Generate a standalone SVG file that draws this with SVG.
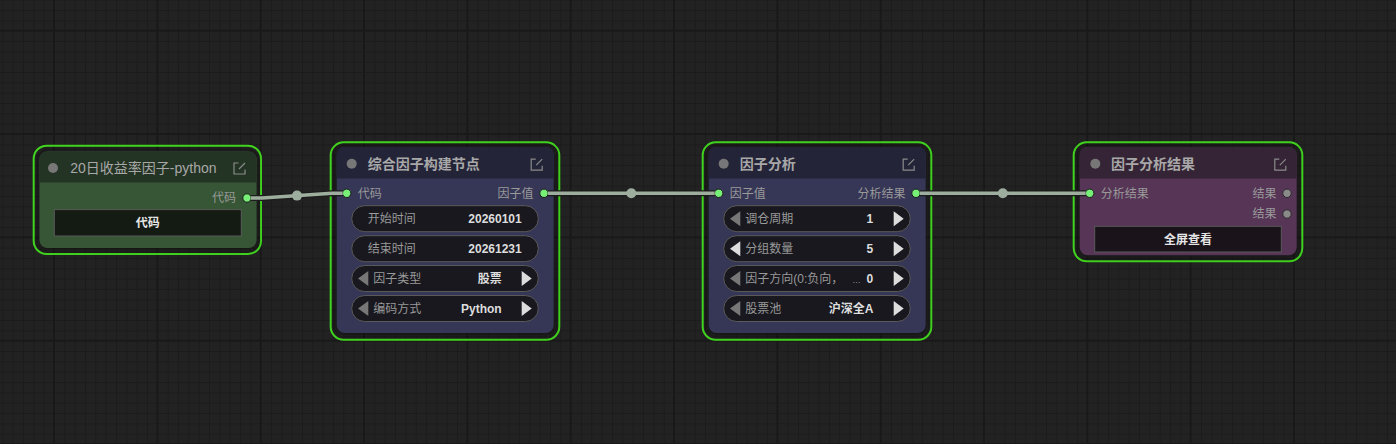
<svg xmlns="http://www.w3.org/2000/svg" width="1396" height="444" viewBox="0 0 1396 444">
<style>
text{font-family:"Liberation Sans","Noto Sans CJK SC",sans-serif;}
.title{font-size:14px;fill:#a8a8a8;}
.tb{font-weight:bold;}
.slot{font-size:12px;fill:#999;}
.lbl{font-size:12px;fill:#999;}
.val{font-size:12px;fill:#ddd;font-weight:bold;text-anchor:end;}
.btnt{font-size:12px;fill:#e6e6e6;font-weight:bold;text-anchor:middle;}
.sel{fill:none;stroke:#41d61f;stroke-width:2;}
.pill{fill:#18181e;stroke:#5a5a5a;stroke-width:1;}
.on{fill:#dddddd;}
.off{fill:#777777;}
.dotin{fill:#77f077;stroke:#1a1a1a;stroke-width:1;}
.dotoff{fill:#8a8a8a;stroke:#2a2a2a;stroke-width:1;}
.tdot{fill:#777;}
.edit{fill:none;stroke:#8a8a8a;stroke-width:1.2;}
.link{fill:none;stroke:#9eae9e;stroke-width:3.5;stroke-linejoin:round;}
.linkbg{fill:none;stroke:#1c1c1c;stroke-width:6;stroke-linejoin:round;}
.mid{fill:#9eae9e;}
.shadow{fill:#111;opacity:0.6;}
</style>
<defs>
<pattern id="minor" patternUnits="userSpaceOnUse" x="54" y="30.7" width="10.333" height="10.333">
<path d="M0.5,0 V10.333 M0,0.5 H10.333" stroke="#1c1c1c" stroke-width="1"/>
</pattern>
<pattern id="major" patternUnits="userSpaceOnUse" x="53" y="29.7" width="103.33" height="103.33">
<path d="M1,0 V103.33 M0,1 H103.33" stroke="#191919" stroke-width="2"/>
</pattern>
<path id="editIcon" d="M5,0.5 H0.5 V11.5 H11.5 V7 M5.5,6.5 L11.5,0.5"/>
<filter id="blur" x="-10%" y="-10%" width="120%" height="120%"><feGaussianBlur stdDeviation="2"/></filter>
</defs>
<rect width="1396" height="444" fill="#222222"/>
<rect width="1396" height="444" fill="url(#minor)"/>
<rect width="1396" height="444" fill="url(#major)"/>

<g id="node-1">
<rect class="sel" x="33.7" y="145.7" width="227.3" height="108.3" rx="13"/>
<rect class="shadow" x="38" y="150.5" width="220" height="100" rx="9" filter="url(#blur)"/>
<rect x="39.4" y="151.6" width="217.2" height="96.5" rx="8" fill="#375636"/>
<path d="M39.4,182.5 V159.6 A8,8 0 0 1 47.4,151.6 H248.6 A8,8 0 0 1 256.6,159.6 V182.5 Z" fill="#243424"/>
<circle class="tdot" cx="53" cy="168" r="5"/>
<text class="title" x="70.3" y="173">20日收益率因子-python</text>
<use href="#editIcon" class="edit" x="233.5" y="162.5"/>
<text class="slot" x="236" y="202.3" text-anchor="end">代码</text>
<circle class="dotin" cx="247" cy="198" r="4.2"/>
<rect x="54.3" y="209.6" width="187" height="26.4" fill="#131b13" stroke="#5a5a5a"/>
<text class="btnt" x="147.8" y="227.2">代码</text>
</g>

<g id="node-2">
<rect class="sel" x="330.7" y="142.3" width="228.6" height="197.5" rx="13"/>
<rect class="shadow" x="335" y="146" width="221" height="190" rx="9" filter="url(#blur)"/>
<rect x="336.7" y="147" width="217" height="186" rx="8" fill="#363656"/>
<path d="M336.7,178.5 V155 A8,8 0 0 1 344.7,147 H545.7 A8,8 0 0 1 553.7,155 V178.5 Z" fill="#242438"/>
<circle class="tdot" cx="351.7" cy="163.7" r="5"/>
<text class="title tb" x="367.7" y="168.7">综合因子构建节点</text>
<use href="#editIcon" class="edit" x="530.7" y="158.7"/>
<circle class="dotin" cx="346.7" cy="193.3" r="4.2"/>
<text class="slot" x="357.7" y="197.6">代码</text>
<text class="slot" x="533.5" y="197.6" text-anchor="end">因子值</text>
<circle class="dotin" cx="544" cy="193.3" r="4.2"/>
<rect class="pill" x="351.7" y="205.7" width="186.6" height="26" rx="13"/>
<text class="lbl" x="367.7" y="223">开始时间</text>
<text class="val" x="521.7" y="223">20260101</text>
<rect class="pill" x="351.7" y="235.7" width="186.6" height="26" rx="13"/>
<text class="lbl" x="367.7" y="253">结束时间</text>
<text class="val" x="521.7" y="253">20261231</text>
<rect class="pill" x="351.7" y="265.5" width="186.6" height="26" rx="13"/>
<polygon class="off" points="358,278.5 368.3,271 368.3,286"/>
<text class="lbl" x="373.3" y="282.8">因子类型</text>
<text class="val" x="501.7" y="282.8">股票</text>
<polygon class="on" points="531.7,278.5 521.7,271 521.7,286"/>
<rect class="pill" x="351.7" y="295.5" width="186.6" height="26" rx="13"/>
<polygon class="off" points="358,308.5 368.3,301 368.3,316"/>
<text class="lbl" x="373.3" y="312.8">编码方式</text>
<text class="val" x="501.7" y="312.8">Python</text>
<polygon class="on" points="531.7,308.5 521.7,301 521.7,316"/>
</g>

<g id="node-3">
<rect class="sel" x="702.7" y="142.3" width="228.6" height="197.5" rx="13"/>
<rect class="shadow" x="707" y="146" width="221" height="190" rx="9" filter="url(#blur)"/>
<rect x="708.7" y="147" width="217" height="186" rx="8" fill="#363656"/>
<path d="M708.7,178.5 V155 A8,8 0 0 1 716.7,147 H917.7 A8,8 0 0 1 925.7,155 V178.5 Z" fill="#242438"/>
<circle class="tdot" cx="723.7" cy="163.7" r="5"/>
<text class="title tb" x="739.7" y="168.7">因子分析</text>
<use href="#editIcon" class="edit" x="902.7" y="158.7"/>
<circle class="dotin" cx="718.7" cy="193.3" r="4.2"/>
<text class="slot" x="729.7" y="197.6">因子值</text>
<text class="slot" x="905.5" y="197.6" text-anchor="end">分析结果</text>
<circle class="dotin" cx="916" cy="193.3" r="4.2"/>
<rect class="pill" x="723.7" y="205.7" width="186.6" height="26" rx="13"/>
<polygon class="off" points="730,218.7 740.3,211.2 740.3,226.2"/>
<text class="lbl" x="745.3" y="223">调仓周期</text>
<text class="val" x="873.3" y="223">1</text>
<polygon class="on" points="903.7,218.7 893.7,211.2 893.7,226.2"/>
<rect class="pill" x="723.7" y="235.7" width="186.6" height="26" rx="13"/>
<polygon class="on" points="730,248.7 740.3,241.2 740.3,256.2"/>
<text class="lbl" x="745.3" y="253">分组数量</text>
<text class="val" x="873.3" y="253">5</text>
<polygon class="on" points="903.7,248.7 893.7,241.2 893.7,256.2"/>
<rect class="pill" x="723.7" y="265.5" width="186.6" height="26" rx="13"/>
<polygon class="off" points="730,278.5 740.3,271 740.3,286"/>
<text class="lbl" x="745.3" y="282.8">因子方向(0:负向，<tspan x="852.3" style="font-size:8.5px">…</tspan></text>
<text class="val" x="873.3" y="282.8">0</text>
<polygon class="on" points="903.7,278.5 893.7,271 893.7,286"/>
<rect class="pill" x="723.7" y="295.5" width="186.6" height="26" rx="13"/>
<polygon class="off" points="730,308.5 740.3,301 740.3,316"/>
<text class="lbl" x="745.3" y="312.8">股票池</text>
<text class="val" x="873.3" y="312.8">沪深全A</text>
<polygon class="on" points="903.7,308.5 893.7,301 893.7,316"/>
</g>

<g id="node-4">
<rect class="sel" x="1073.7" y="142.3" width="228.6" height="119" rx="13"/>
<rect class="shadow" x="1078" y="146" width="221" height="112" rx="9" filter="url(#blur)"/>
<rect x="1079.7" y="147" width="217" height="108.3" rx="8" fill="#563556"/>
<path d="M1079.7,178.5 V155 A8,8 0 0 1 1087.7,147 H1288.7 A8,8 0 0 1 1296.7,155 V178.5 Z" fill="#352435"/>
<circle class="tdot" cx="1095.3" cy="163.7" r="5"/>
<text class="title tb" x="1111" y="168.7">因子分析结果</text>
<use href="#editIcon" class="edit" x="1274.3" y="158.7"/>
<circle class="dotin" cx="1089.7" cy="193.3" r="4.2"/>
<text class="slot" x="1100.7" y="197.6">分析结果</text>
<text class="slot" x="1276.5" y="197.6" text-anchor="end">结果</text>
<circle class="dotoff" cx="1287" cy="193.3" r="4.2"/>
<text class="slot" x="1276.5" y="218.3" text-anchor="end">结果</text>
<circle class="dotoff" cx="1287" cy="214" r="4.2"/>
<rect x="1094.7" y="226.3" width="186.6" height="25.7" fill="#1a131a" stroke="#5a5a5a"/>
<text class="btnt" x="1188" y="243.6">全屏查看</text>
</g>

<g id="connectors">
<path class="linkbg" d="M251,198 L262,198 L332,193.3 L342.7,193.3"/>
<path class="link" d="M251,198 L262,198 L332,193.3 L342.7,193.3"/>
<circle class="mid" cx="297" cy="195.6" r="5"/>
<path class="linkbg" d="M548,193.3 L714.7,193.3"/>
<path class="link" d="M548,193.3 L714.7,193.3"/>
<circle class="mid" cx="631.3" cy="193.3" r="5"/>
<path class="linkbg" d="M920,193.3 L1085.7,193.3"/>
<path class="link" d="M920,193.3 L1085.7,193.3"/>
<circle class="mid" cx="1002.8" cy="193.3" r="5"/>
</g>
</svg>
